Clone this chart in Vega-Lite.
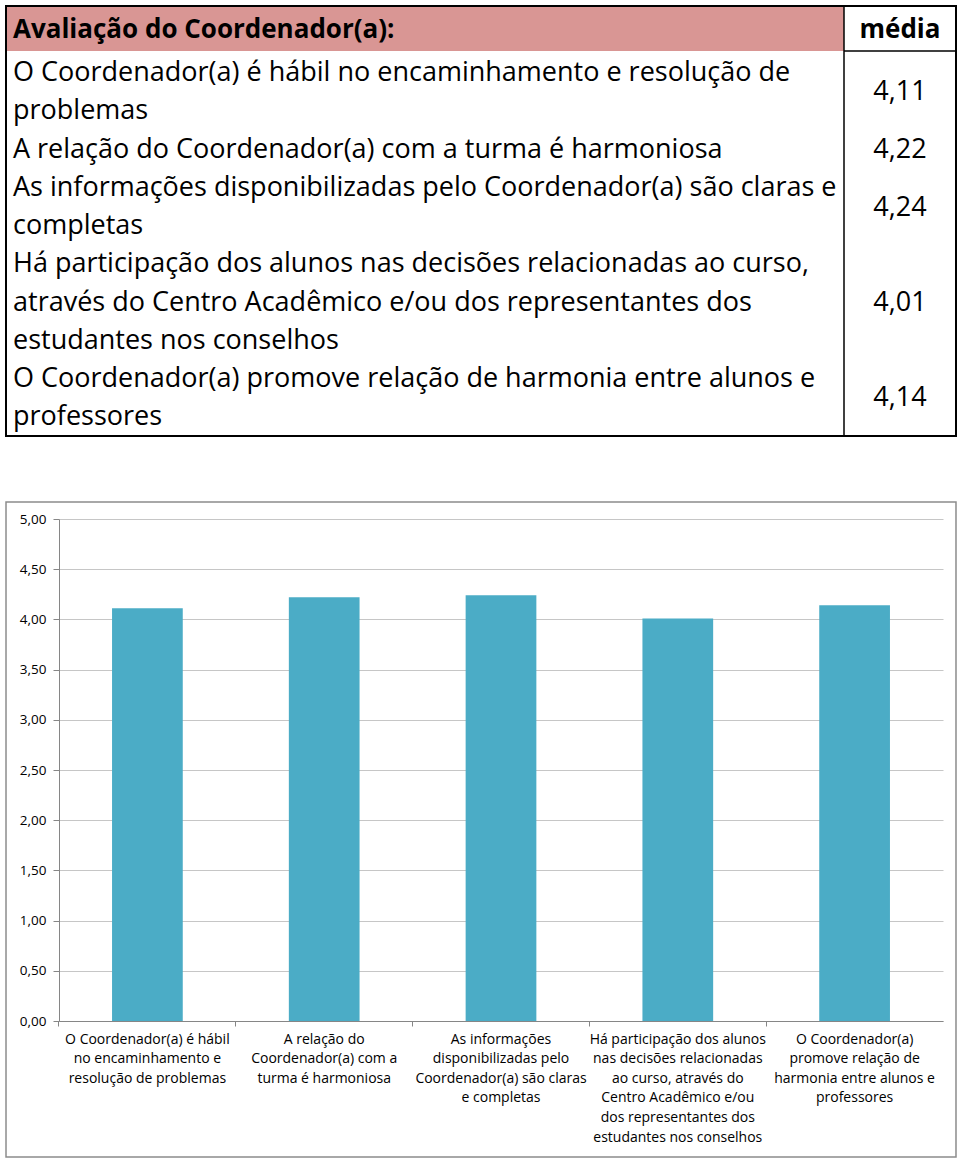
{
  "$schema": "https://vega.github.io/schema/vega-lite/v6.json",
  "background": "white",
  "padding": 5,
  "spacing": 64,
  "config": {"view": {"stroke": null}, "font": "Open Sans", "axis": {"labelFont": "Open Sans"}},
  "vconcat": [
    {
      "width": 884,
      "height": 430,
      "layer": [
        {
          "data": {"values": [{"x1": 0, "x2": 838, "y1": -0.75, "y2": 0.425}]},
          "mark": {"type": "rect", "color": "#D99694", "clip": false},
          "encoding": {
            "x": {"field": "x1", "type": "quantitative", "scale": {"domain": [53, 937], "nice": false, "zero": false}, "axis": null},
            "x2": {"field": "x2"},
            "y": {"field": "y1", "type": "quantitative", "scale": {"domain": [10.485, -0.75], "nice": false, "zero": false}, "axis": null},
            "y2": {"field": "y2"}
          }
        },
        {
          "data": {"values": [{"x1": 838, "x2": 838, "y1": -0.75, "y2": 10.485}, {"x1": 838, "x2": 950, "y1": 0.425, "y2": 0.425}]},
          "mark": {"type": "rule", "color": "#000000", "strokeWidth": 1.5},
          "encoding": {
            "x": {"field": "x1", "type": "quantitative", "axis": null},
            "x2": {"field": "x2"},
            "y": {"field": "y1", "type": "quantitative", "axis": null},
            "y2": {"field": "y2"}
          }
        },
        {
          "data": {"values": [{"x1": 0, "x2": 950, "y1": -0.75, "y2": 10.485}]},
          "mark": {"type": "rect", "fillOpacity": 0, "stroke": "#000000", "strokeWidth": 2},
          "encoding": {
            "x": {"field": "x1", "type": "quantitative", "axis": null},
            "x2": {"field": "x2"},
            "y": {"field": "y1", "type": "quantitative", "axis": null},
            "y2": {"field": "y2"}
          }
        },
        {
          "data": {"values": [{"x": 7, "line": -0.124, "text": "Avaliação do Coordenador(a):"}]},
          "mark": {"type": "text", "fontSize": 26, "fontWeight": "bold", "baseline": "middle", "color": "#000000", "align": "left"},
          "encoding": {
            "x": {"field": "x", "type": "quantitative", "axis": null},
            "y": {"field": "line", "type": "quantitative", "axis": null},
            "text": {"field": "text"}
          }
        },
        {
          "data": {"values": [{"x": 894, "line": -0.124, "text": "média"}]},
          "mark": {"type": "text", "fontSize": 26, "fontWeight": "bold", "baseline": "middle", "color": "#000000", "align": "center"},
          "encoding": {
            "x": {"field": "x", "type": "quantitative", "axis": null},
            "y": {"field": "line", "type": "quantitative", "axis": null},
            "text": {"field": "text"}
          }
        },
        {
          "data": {"values": [
            {"line": 1, "text": "O Coordenador(a) é hábil no encaminhamento e resolução de"},
            {"line": 2, "text": "problemas"},
            {"line": 3, "text": "A relação do Coordenador(a) com a turma é harmoniosa"},
            {"line": 4, "text": "As informações disponibilizadas pelo Coordenador(a) são claras e"},
            {"line": 5, "text": "completas"},
            {"line": 6, "text": "Há participação dos alunos nas decisões relacionadas ao curso,"},
            {"line": 7, "text": "através do Centro Acadêmico e/ou dos representantes dos"},
            {"line": 8, "text": "estudantes nos conselhos"},
            {"line": 9, "text": "O Coordenador(a) promove relação de harmonia entre alunos e"},
            {"line": 10, "text": "professores"}
          ]},
          "mark": {"type": "text", "fontSize": 27, "baseline": "middle", "align": "left", "color": "#000000"},
          "encoding": {
            "x": {"datum": 7, "type": "quantitative"},
            "y": {"field": "line", "type": "quantitative", "axis": null},
            "text": {"field": "text"}
          }
        },
        {
          "data": {"values": [
            {"line": 1.5, "media": "4,11"},
            {"line": 3, "media": "4,22"},
            {"line": 4.53, "media": "4,24"},
            {"line": 7.01, "media": "4,01"},
            {"line": 9.49, "media": "4,14"}
          ]},
          "mark": {"type": "text", "fontSize": 27, "baseline": "middle", "align": "center", "color": "#000000"},
          "encoding": {
            "x": {"datum": 894, "type": "quantitative"},
            "y": {"field": "line", "type": "quantitative", "axis": null},
            "text": {"field": "media"}
          }
        }
      ]
    },
    {
      "width": 884,
      "height": 502,
      "layer": [
        {
          "data": {"values": [{"bx1": -0.05995, "bx2": 1.0147, "by1": -1.3546, "by2": 5.169}]},
          "mark": {"type": "rect", "fillOpacity": 0, "stroke": "#8C8C8C", "strokeWidth": 1.5, "clip": false},
          "encoding": {
            "x": {"field": "bx1", "type": "quantitative", "scale": {"domain": [0, 1], "nice": false, "zero": false}, "axis": null},
            "x2": {"field": "bx2"},
            "y": {"field": "by1", "type": "quantitative", "scale": {"domain": [0, 5], "nice": false, "zero": false},
              "axis": {"title": null, "values": [0, 0.5, 1, 1.5, 2, 2.5, 3, 3.5, 4, 4.5, 5], "labelExpr": "replace(format(datum.value, '.2f'), '.', ',')", "grid": true, "gridColor": "#C6C6C6", "domainColor": "#868686", "tickColor": "#868686", "tickSize": 6, "labelFontSize": 13.5, "labelColor": "#000000", "labelPadding": 7}},
            "y2": {"field": "by2"}
          }
        },
        {
          "data": {"values": [
            {"label": "O Coordenador(a) é hábil|no encaminhamento e|resolução de problemas", "value": 4.11},
            {"label": "A relação do|Coordenador(a) com a|turma é harmoniosa", "value": 4.22},
            {"label": "As informações|disponibilizadas pelo|Coordenador(a) são claras|e completas", "value": 4.24},
            {"label": "Há participação dos alunos|nas decisões relacionadas|ao curso, através do|Centro Acadêmico e/ou|dos representantes dos|estudantes nos conselhos", "value": 4.01},
            {"label": "O Coordenador(a)|promove relação de|harmonia entre alunos e|professores", "value": 4.14}
          ]},
          "mark": {"type": "bar", "color": "#4BACC6"},
          "encoding": {
            "x": {"field": "label", "type": "nominal", "sort": null, "scale": {"paddingInner": 0.6, "paddingOuter": 0.3},
              "axis": {"title": null, "labelAngle": 0, "labelExpr": "split(datum.label, '|')", "labelFontSize": 14, "labelLineHeight": 19.6, "labelColor": "#000000", "domainColor": "#868686", "tickColor": "#868686", "tickSize": 5, "bandPosition": -0.75, "labelPadding": 6, "labelLimit": 0, "labelOverlap": false, "labelBound": false, "labelBaseline": "top"}},
            "y": {"field": "value", "type": "quantitative", "scale": {"domain": [0, 5], "nice": false, "zero": false},
              "axis": {"title": null, "values": [0, 0.5, 1, 1.5, 2, 2.5, 3, 3.5, 4, 4.5, 5], "labelExpr": "replace(format(datum.value, '.2f'), '.', ',')", "grid": true, "gridColor": "#C6C6C6", "domainColor": "#868686", "tickColor": "#868686", "tickSize": 6, "labelFontSize": 13.5, "labelColor": "#000000", "labelPadding": 7}}
          }
        }
      ],
      "resolve": {"scale": {"x": "independent"}}
    }
  ]
}
